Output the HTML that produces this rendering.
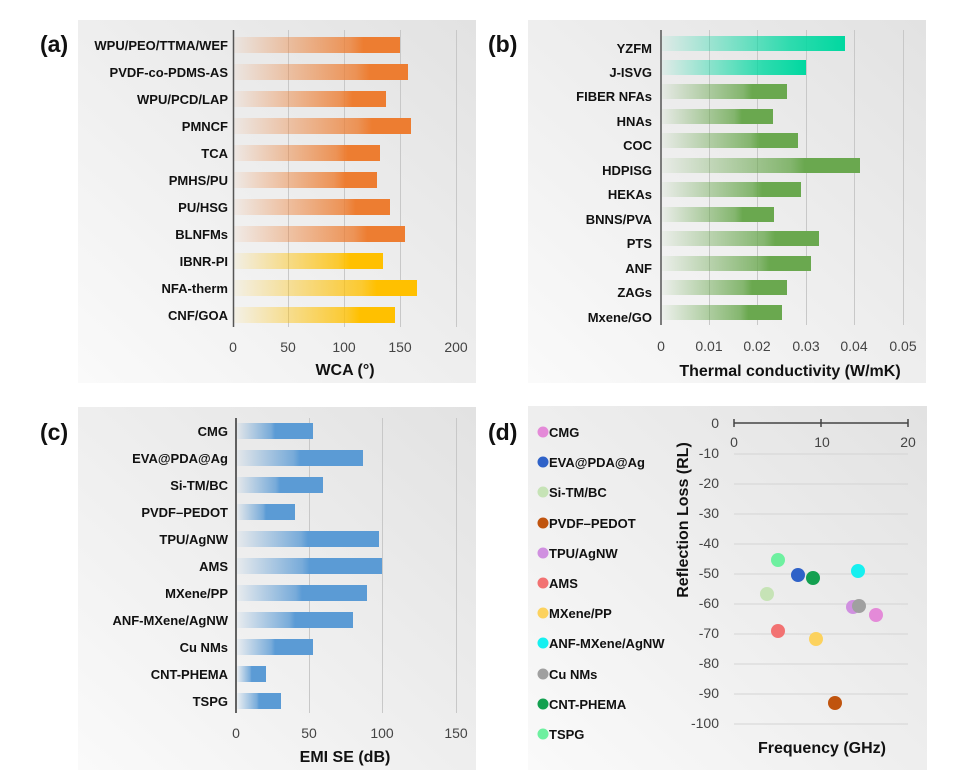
<!DOCTYPE html>
<html><head><meta charset="utf-8"><style>
html,body{margin:0;padding:0;background:#fff;}
svg{display:block;font-family:"Liberation Sans",Arial,sans-serif;}
.l{font-size:13px;font-weight:bold;fill:#111;text-anchor:end;}
.t{font-size:14px;fill:#444;text-anchor:middle;}
.ti{font-size:16px;fill:#111;text-anchor:middle;font-weight:bold;}
.p{font-size:23px;font-weight:bold;fill:#111;}
.lg{font-size:13px;font-weight:bold;fill:#111;}
</style></head><body>
<svg width="955" height="779" viewBox="0 0 955 779">
<defs>
<linearGradient id="bg" x1="0" y1="1" x2="1" y2="0"><stop offset="0" stop-color="#fafafa"/><stop offset="1" stop-color="#e2e2e2"/></linearGradient>
<linearGradient id="go" x1="0" x2="1"><stop offset="0" stop-color="#ed7d31" stop-opacity="0.05"/><stop offset="0.7" stop-color="#ed7d31" stop-opacity="0.8"/><stop offset="0.78" stop-color="#ed7d31"/><stop offset="1" stop-color="#ed7d31"/></linearGradient>
<linearGradient id="gy" x1="0" x2="1"><stop offset="0" stop-color="#ffc000" stop-opacity="0.05"/><stop offset="0.7" stop-color="#ffc000" stop-opacity="0.8"/><stop offset="0.78" stop-color="#ffc000"/><stop offset="1" stop-color="#ffc000"/></linearGradient>
<linearGradient id="gt" x1="0" x2="1"><stop offset="0" stop-color="#00d8a0" stop-opacity="0.05"/><stop offset="0.7" stop-color="#00d8a0" stop-opacity="0.8"/><stop offset="1" stop-color="#00d8a0"/></linearGradient>
<linearGradient id="gg" x1="0" x2="1"><stop offset="0" stop-color="#6aa84f" stop-opacity="0.05"/><stop offset="0.65" stop-color="#6aa84f" stop-opacity="0.8"/><stop offset="0.72" stop-color="#6aa84f"/><stop offset="1" stop-color="#6aa84f"/></linearGradient>
<linearGradient id="gb" x1="0" x2="1"><stop offset="0" stop-color="#5b9bd5" stop-opacity="0.05"/><stop offset="0.45" stop-color="#5b9bd5" stop-opacity="0.8"/><stop offset="0.5" stop-color="#5b9bd5"/><stop offset="1" stop-color="#5b9bd5"/></linearGradient>
</defs>
<rect x="78" y="20" width="398" height="363" fill="url(#bg)"/>
<rect x="528" y="20" width="398" height="363" fill="url(#bg)"/>
<rect x="78" y="407" width="398" height="363" fill="url(#bg)"/>
<rect x="528" y="406" width="399" height="364" fill="url(#bg)"/>
<text class="p" x="40" y="52">(a)</text>
<text class="p" x="488" y="52">(b)</text>
<text class="p" x="40" y="440">(c)</text>
<text class="p" x="488" y="440">(d)</text>

<!-- (a) -->
<g stroke="#c8c8c8" stroke-width="1"><line x1="288.5" y1="30" x2="288.5" y2="327"/><line x1="344.5" y1="30" x2="344.5" y2="327"/><line x1="400.5" y1="30" x2="400.5" y2="327"/><line x1="456.5" y1="30" x2="456.5" y2="327"/></g>
<g>
<rect x="234" y="37" width="166" height="16" fill="url(#go)"/>
<rect x="234" y="64" width="174" height="16" fill="url(#go)"/>
<rect x="234" y="91" width="152" height="16" fill="url(#go)"/>
<rect x="234" y="118" width="177" height="16" fill="url(#go)"/>
<rect x="234" y="145" width="146" height="16" fill="url(#go)"/>
<rect x="234" y="172" width="143" height="16" fill="url(#go)"/>
<rect x="234" y="199" width="156" height="16" fill="url(#go)"/>
<rect x="234" y="226" width="171" height="16" fill="url(#go)"/>
<rect x="234" y="253" width="149" height="16" fill="url(#gy)"/>
<rect x="234" y="280" width="183" height="16" fill="url(#gy)"/>
<rect x="234" y="307" width="161" height="16" fill="url(#gy)"/>
</g>
<line x1="233.5" y1="30" x2="233.5" y2="327" stroke="#555" stroke-width="1.5"/>
<g>
<text class="l" x="228" y="50">WPU/PEO/TTMA/WEF</text>
<text class="l" x="228" y="77">PVDF-co-PDMS-AS</text>
<text class="l" x="228" y="104">WPU/PCD/LAP</text>
<text class="l" x="228" y="131">PMNCF</text>
<text class="l" x="228" y="158">TCA</text>
<text class="l" x="228" y="185">PMHS/PU</text>
<text class="l" x="228" y="212">PU/HSG</text>
<text class="l" x="228" y="239">BLNFMs</text>
<text class="l" x="228" y="266">IBNR-PI</text>
<text class="l" x="228" y="293">NFA-therm</text>
<text class="l" x="228" y="320">CNF/GOA</text>
</g>
<g><text class="t" x="233" y="352">0</text><text class="t" x="288" y="352">50</text><text class="t" x="344" y="352">100</text><text class="t" x="400" y="352">150</text><text class="t" x="456" y="352">200</text></g>
<text class="ti" x="345" y="375">WCA (°)</text>

<!-- (b) -->
<g stroke="#c8c8c8"><line x1="709.5" y1="30" x2="709.5" y2="325"/><line x1="757.5" y1="30" x2="757.5" y2="325"/><line x1="806.5" y1="30" x2="806.5" y2="325"/><line x1="854.5" y1="30" x2="854.5" y2="325"/><line x1="903.5" y1="30" x2="903.5" y2="325"/></g>
<g>
<rect x="662" y="36" width="183" height="15" fill="url(#gt)"/>
<rect x="662" y="60" width="144" height="15" fill="url(#gt)"/>
<rect x="662" y="84" width="125" height="15" fill="url(#gg)"/>
<rect x="662" y="109" width="111" height="15" fill="url(#gg)"/>
<rect x="662" y="133" width="136" height="15" fill="url(#gg)"/>
<rect x="662" y="158" width="198" height="15" fill="url(#gg)"/>
<rect x="662" y="182" width="139" height="15" fill="url(#gg)"/>
<rect x="662" y="207" width="112" height="15" fill="url(#gg)"/>
<rect x="662" y="231" width="157" height="15" fill="url(#gg)"/>
<rect x="662" y="256" width="149" height="15" fill="url(#gg)"/>
<rect x="662" y="280" width="125" height="15" fill="url(#gg)"/>
<rect x="662" y="305" width="120" height="15" fill="url(#gg)"/>
</g>
<line x1="661" y1="30" x2="661" y2="325" stroke="#555" stroke-width="1.5"/>
<g>
<text class="l" x="652" y="53">YZFM</text>
<text class="l" x="652" y="77">J-ISVG</text>
<text class="l" x="652" y="101">FIBER NFAs</text>
<text class="l" x="652" y="126">HNAs</text>
<text class="l" x="652" y="150">COC</text>
<text class="l" x="652" y="175">HDPISG</text>
<text class="l" x="652" y="199">HEKAs</text>
<text class="l" x="652" y="224">BNNS/PVA</text>
<text class="l" x="652" y="248">PTS</text>
<text class="l" x="652" y="273">ANF</text>
<text class="l" x="652" y="297">ZAGs</text>
<text class="l" x="652" y="322">Mxene/GO</text>
</g>
<g><text class="t" x="661" y="351">0</text><text class="t" x="709" y="351">0.01</text><text class="t" x="757" y="351">0.02</text><text class="t" x="806" y="351">0.03</text><text class="t" x="854" y="351">0.04</text><text class="t" x="903" y="351">0.05</text></g>
<text class="ti" x="790" y="376">Thermal conductivity (W/mK)</text>

<!-- (c) -->
<g stroke="#c8c8c8"><line x1="309.5" y1="418" x2="309.5" y2="713"/><line x1="382.5" y1="418" x2="382.5" y2="713"/><line x1="456.5" y1="418" x2="456.5" y2="713"/></g>
<g>
<rect x="237" y="423" width="76" height="16" fill="url(#gb)"/>
<rect x="237" y="450" width="126" height="16" fill="url(#gb)"/>
<rect x="237" y="477" width="86" height="16" fill="url(#gb)"/>
<rect x="237" y="504" width="58" height="16" fill="url(#gb)"/>
<rect x="237" y="531" width="142" height="16" fill="url(#gb)"/>
<rect x="237" y="558" width="145" height="16" fill="url(#gb)"/>
<rect x="237" y="585" width="130" height="16" fill="url(#gb)"/>
<rect x="237" y="612" width="116" height="16" fill="url(#gb)"/>
<rect x="237" y="639" width="76" height="16" fill="url(#gb)"/>
<rect x="237" y="666" width="29" height="16" fill="url(#gb)"/>
<rect x="237" y="693" width="44" height="16" fill="url(#gb)"/>
</g>
<line x1="236" y1="418" x2="236" y2="713" stroke="#333" stroke-width="1.5"/>
<g>
<text class="l" x="228" y="436">CMG</text>
<text class="l" x="228" y="463">EVA@PDA@Ag</text>
<text class="l" x="228" y="490">Si-TM/BC</text>
<text class="l" x="228" y="517">PVDF–PEDOT</text>
<text class="l" x="228" y="544">TPU/AgNW</text>
<text class="l" x="228" y="571">AMS</text>
<text class="l" x="228" y="598">MXene/PP</text>
<text class="l" x="228" y="625">ANF-MXene/AgNW</text>
<text class="l" x="228" y="652">Cu NMs</text>
<text class="l" x="228" y="679">CNT-PHEMA</text>
<text class="l" x="228" y="706">TSPG</text>
</g>
<g><text class="t" x="236" y="738">0</text><text class="t" x="309" y="738">50</text><text class="t" x="382" y="738">100</text><text class="t" x="456" y="738">150</text></g>
<text class="ti" x="345" y="762">EMI SE (dB)</text>

<!-- (d) -->
<g stroke="#d4d4d4"><line x1="734" y1="454" x2="908" y2="454"/><line x1="734" y1="484" x2="908" y2="484"/><line x1="734" y1="514" x2="908" y2="514"/><line x1="734" y1="544" x2="908" y2="544"/><line x1="734" y1="574" x2="908" y2="574"/><line x1="734" y1="604" x2="908" y2="604"/><line x1="734" y1="634" x2="908" y2="634"/><line x1="734" y1="664" x2="908" y2="664"/><line x1="734" y1="694" x2="908" y2="694"/><line x1="734" y1="724" x2="908" y2="724"/></g>
<g stroke="#444" stroke-width="1.5"><line x1="734" y1="423" x2="908" y2="423"/><line x1="734" y1="419" x2="734" y2="427"/><line x1="821" y1="419" x2="821" y2="427"/><line x1="908" y1="419" x2="908" y2="427"/></g>
<g><text class="t" x="734" y="447">0</text><text class="t" x="822" y="447">10</text><text class="t" x="908" y="447">20</text></g>
<g style="font-size:14px;fill:#444;text-anchor:end;">
<text x="719" y="428">0</text><text x="719" y="458">-10</text><text x="719" y="488">-20</text><text x="719" y="518">-30</text><text x="719" y="548">-40</text><text x="719" y="578">-50</text><text x="719" y="608">-60</text><text x="719" y="638">-70</text><text x="719" y="668">-80</text><text x="719" y="698">-90</text><text x="719" y="728">-100</text>
</g>
<text class="ti" transform="translate(688,520) rotate(-90)">Reflection Loss (RL)</text>
<text class="ti" x="822" y="753">Frequency (GHz)</text>
<g>
<circle cx="778" cy="560" r="7" fill="#6ef0a0"/>
<circle cx="798" cy="575" r="7" fill="#2f62c8"/>
<circle cx="813" cy="578" r="7" fill="#13a050"/>
<circle cx="858" cy="571" r="7" fill="#16f0f0"/>
<circle cx="767" cy="594" r="7" fill="#c6e3b6"/>
<circle cx="853" cy="607" r="7" fill="#d090e0"/>
<circle cx="859" cy="606" r="7" fill="#a0a0a0"/>
<circle cx="876" cy="615" r="7" fill="#e48ad8"/>
<circle cx="778" cy="631" r="7" fill="#f27272"/>
<circle cx="816" cy="639" r="7" fill="#fcd25e"/>
<circle cx="835" cy="703" r="7" fill="#c0540e"/>
</g>
<g>
<circle cx="543" cy="432" r="5.5" fill="#e48ad8"/><text class="lg" x="549" y="437">CMG</text>
<circle cx="543" cy="462" r="5.5" fill="#2f62c8"/><text class="lg" x="549" y="467">EVA@PDA@Ag</text>
<circle cx="543" cy="492" r="5.5" fill="#c6e3b6"/><text class="lg" x="549" y="497">Si-TM/BC</text>
<circle cx="543" cy="523" r="5.5" fill="#c0540e"/><text class="lg" x="549" y="528">PVDF–PEDOT</text>
<circle cx="543" cy="553" r="5.5" fill="#d090e0"/><text class="lg" x="549" y="558">TPU/AgNW</text>
<circle cx="543" cy="583" r="5.5" fill="#f27272"/><text class="lg" x="549" y="588">AMS</text>
<circle cx="543" cy="613" r="5.5" fill="#fcd25e"/><text class="lg" x="549" y="618">MXene/PP</text>
<circle cx="543" cy="643" r="5.5" fill="#16f0f0"/><text class="lg" x="549" y="648">ANF-MXene/AgNW</text>
<circle cx="543" cy="674" r="5.5" fill="#a0a0a0"/><text class="lg" x="549" y="679">Cu NMs</text>
<circle cx="543" cy="704" r="5.5" fill="#13a050"/><text class="lg" x="549" y="709">CNT-PHEMA</text>
<circle cx="543" cy="734" r="5.5" fill="#6ef0a0"/><text class="lg" x="549" y="739">TSPG</text>
</g>
</svg>
</body></html>
